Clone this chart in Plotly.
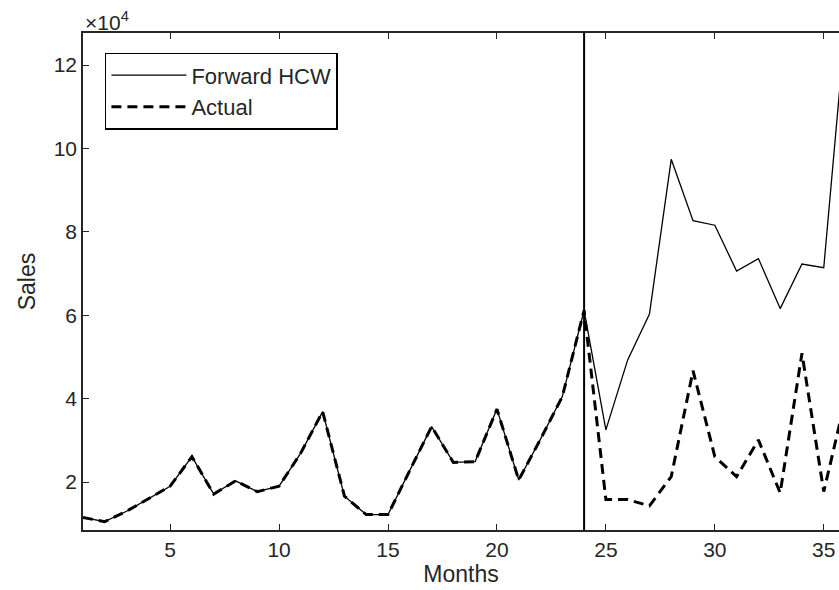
import plotly.graph_objects as go

months = list(range(1, 37))
actual_1e4 = [1.15, 1.05, 1.30, 1.60, 1.90, 2.61, 1.71, 2.03, 1.77, 1.90,
              2.70, 3.69, 1.66, 1.22, 1.22, 2.28, 3.33, 2.47, 2.49, 3.75,
              2.05, 3.03, 4.05, 6.12,
              1.58, 1.58, 1.43, 2.13, 4.67, 2.61, 2.13, 3.01, 1.74, 5.09, 1.77, 4.0]
hcw_1e4 = actual_1e4[:24] + [3.25, 4.93, 6.03, 9.74, 8.27, 8.16, 7.06, 7.36, 6.16, 7.23, 7.14, 13.0]
actual = [v * 1e4 for v in actual_1e4]
hcw = [v * 1e4 for v in hcw_1e4]
y_ticks = [2, 4, 6, 8, 10, 12]
x_ticks = [5, 10, 15, 20, 25, 30, 35]
cut_month = 24

FONT = "Liberation Sans, Arial, Helvetica, sans-serif"
INK = "#262626"

fig = go.Figure()
fig.add_trace(go.Scatter(x=months, y=hcw, mode="lines", name="Forward HCW",
                         line=dict(color="black", width=1.3)))
fig.add_trace(go.Scatter(x=months, y=actual, mode="lines", name="Actual",
                         line=dict(color="black", width=3, dash="10px,6px")))

fig.add_shape(type="line", x0=cut_month, x1=cut_month, y0=0, y1=1,
              xref="x", yref="paper", line=dict(color="black", width=2))

fig.add_annotation(x=0, y=1, xref="paper", yref="paper", xanchor="left", yanchor="bottom",
                   text="×10<sup>4</sup>", showarrow=False, xshift=0, yshift=-3,
                   font=dict(family=FONT, size=21, color=INK))

fig.update_layout(
    width=839, height=590,
    margin=dict(l=83, r=0, t=33, b=60),
    paper_bgcolor="white", plot_bgcolor="white",
    font=dict(family=FONT, size=21, color=INK),
    showlegend=True,
    legend=dict(x=0.029, y=0.96, xanchor="left", yanchor="top",
                bgcolor="white", bordercolor="black", borderwidth=1.5,
                font=dict(family=FONT, size=22, color=INK),
                itemwidth=75, tracegroupgap=0),
    xaxis=dict(range=[1, 35.7], tickvals=x_ticks, ticks="inside", ticklen=6,
               tickcolor=INK, showline=True, linecolor=INK, linewidth=1.5,
               mirror="ticks", showgrid=False, zeroline=False,
               title=dict(text="Months", standoff=5, font=dict(size=23)),
               tickfont=dict(size=21)),
    yaxis=dict(range=[0.85e4, 12.77e4], tickvals=[v * 1e4 for v in y_ticks],
               ticktext=[str(v) for v in y_ticks], ticks="inside", ticklen=6,
               tickcolor=INK, showline=True, linecolor=INK, linewidth=1.5,
               showgrid=False, zeroline=False,
               title=dict(text="Sales", standoff=12, font=dict(size=23)),
               tickfont=dict(size=21)),
)

fig.write_html("out.html")
